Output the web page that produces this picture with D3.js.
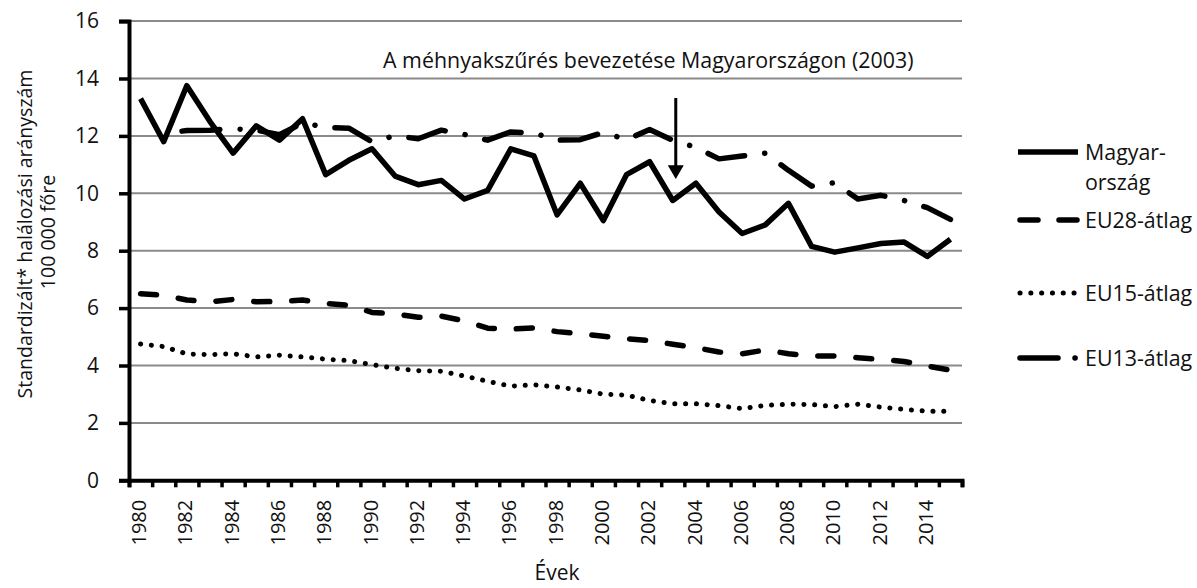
<!DOCTYPE html>
<html>
<head>
<meta charset="utf-8">
<script src="https://cdn.jsdelivr.net/npm/d3@7"></script>
<style>
  body { margin: 0; background: #fff; }
  svg { font-family: 'Open Sans', sans-serif; }
</style>
</head>
<body>
<div id="chart"></div>
<script>
// years and series (rate per 100 000)
const years = d3.range(1980, 2016);
const hungary = [13.3, 11.8, 13.75, 12.5, 11.4, 12.35, 11.85, 12.6, 10.65, 11.15, 11.55, 10.6, 10.3, 10.45, 9.8, 10.1, 11.55, 11.3, 9.25, 10.35, 9.05, 10.65, 11.1, 9.75, 10.35, 9.35, 8.6, 8.9, 9.65, 8.15, 7.95, 8.1, 8.25, 8.3, 7.8, 8.4];
const eu28 = [6.5, 6.45, 6.28, 6.22, 6.3, 6.22, 6.23, 6.28, 6.16, 6.1, 5.85, 5.8, 5.68, 5.72, 5.55, 5.3, 5.27, 5.31, 5.18, 5.11, 5.02, 4.93, 4.87, 4.74, 4.62, 4.47, 4.41, 4.54, 4.41, 4.33, 4.33, 4.27, 4.21, 4.14, 3.98, 3.84];
const eu15 = [4.75, 4.66, 4.4, 4.38, 4.41, 4.3, 4.36, 4.3, 4.22, 4.17, 4.03, 3.9, 3.82, 3.8, 3.63, 3.45, 3.28, 3.33, 3.25, 3.15, 3.0, 2.97, 2.78, 2.67, 2.67, 2.6, 2.5, 2.61, 2.65, 2.64, 2.57, 2.65, 2.55, 2.47, 2.41, 2.41];
const eu13 = [null, 12.08, 12.19, 12.2, 12.25, 12.2, 12.04, 12.45, 12.3, 12.27, 11.8, 12.0, 11.9, 12.2, 12.05, 11.85, 12.14, 12.1, 11.85, 11.87, 12.12, 11.87, 12.22, 11.85, 11.6, 11.2, 11.3, 11.4, 10.8, 10.25, 10.37, 9.8, 9.93, 9.75, 9.5, 9.09];
const yTicks = [0, 2, 4, 6, 8, 10, 12, 14, 16];
const xLabels = d3.range(1980, 2016, 2);

const width = 1197, height = 588;
const plotLeft = 129, plotRight = 962, plotTop = 21.1, plotBottom = 480.3;

const svg = d3.select('#chart').append('svg')
  .attr('width', width).attr('height', height);

const x = d3.scaleBand().domain(years).range([plotLeft, plotRight]);
const xIdx = d3.scaleLinear().domain([0, years.length]).range([plotLeft, plotRight]);
const y = d3.scaleLinear().domain([0, 16]).range([plotBottom, plotTop]);
const cx = d => x(d) + x.bandwidth() / 2;

// gridlines
svg.append('g')
  .selectAll('line')
  .data(yTicks.filter(t => t > 0))
  .enter().append('line')
  .attr('x1', plotLeft).attr('x2', plotRight)
  .attr('y1', d => y(d)).attr('y2', d => y(d))
  .attr('stroke', '#8a8a8a').attr('stroke-width', 2);

// y axis
const yAxis = svg.append('g')
  .attr('transform', `translate(${plotLeft},0)`)
  .call(d3.axisLeft(y).tickValues(yTicks).tickSize(10).tickPadding(20));
yAxis.select('.domain').attr('stroke-width', 4);
yAxis.selectAll('.tick line').attr('stroke-width', 3.5);
yAxis.selectAll('text').attr('font-size', 21).attr('font-family', 'Open Sans').attr('fill', '#111');

// x axis ticks at category edges
const xTickAxis = svg.append('g')
  .attr('transform', `translate(0,${plotBottom})`)
  .call(d3.axisBottom(xIdx).tickValues(d3.range(years.length + 1)).tickSize(7).tickFormat(''));
xTickAxis.select('.domain').attr('stroke-width', 4);
xTickAxis.selectAll('.tick line').attr('stroke-width', 3.5);

// x labels
const xLab = svg.append('g')
  .attr('transform', `translate(0,${plotBottom})`)
  .call(d3.axisBottom(x).tickValues(xLabels).tickSize(0));
xLab.select('.domain').remove();
xLab.selectAll('text')
  .attr('font-size', 20).attr('font-family', 'Open Sans').attr('fill', '#111')
  .attr('text-anchor', 'end')
  .attr('transform', 'rotate(-90)')
  .attr('x', -19.5).attr('y', 0).attr('dy', '0.28em');

// axis titles
svg.append('text')
  .attr('transform', 'translate(24,234) rotate(-90)')
  .attr('text-anchor', 'middle').attr('dominant-baseline', 'central')
  .attr('font-size', 19.5).attr('fill', '#111')
  .text('Standardizált* halálozási arányszám');
svg.append('text')
  .attr('transform', 'translate(47,232) rotate(-90)')
  .attr('text-anchor', 'middle').attr('dominant-baseline', 'central')
  .attr('font-size', 19.5).attr('fill', '#111')
  .text('100 000 főre');
svg.append('text')
  .attr('x', 557).attr('y', 580)
  .attr('text-anchor', 'middle')
  .attr('font-size', 21).attr('fill', '#111')
  .text('Évek');

// lines
const line = d3.line()
  .defined(d => d.v !== null)
  .x(d => cx(d.year))
  .y(d => y(d.v));
const toPts = arr => years.map((yr, i) => ({ year: yr, v: arr[i] }));

const series = [
  { name: 'eu15', data: eu15, dash: '0.1,10.7', width: 5, cap: 'round' },
  { name: 'eu28', data: eu28, dash: '16,22', width: 5.5, cap: 'round' },
  { name: 'eu13', data: eu13, dash: '38,20.2,0.1,20.1', width: 5.5, cap: 'round', offset: 60 },
  { name: 'hungary', data: hungary, dash: null, width: 5.5, cap: 'butt' }
];

series.forEach(s => {
  svg.append('path')
    .datum(toPts(s.data))
    .attr('fill', 'none')
    .attr('stroke', '#000')
    .attr('stroke-width', s.width)
    .attr('stroke-linecap', s.cap)
    .attr('stroke-linejoin', 'round')
    .attr('stroke-dasharray', s.dash)
    .attr('stroke-dashoffset', s.offset || 0)
    .attr('d', line);
});

// annotation
svg.append('text')
  .attr('x', 383).attr('y', 68)
  .attr('font-size', 21.4).attr('fill', '#111')
  .text('A méhnyakszűrés bevezetése Magyarországon (2003)');

const ax = cx(2003) + 3;
svg.append('line')
  .attr('x1', ax).attr('x2', ax)
  .attr('y1', y(13.32)).attr('y2', y(10.9))
  .attr('stroke', '#000').attr('stroke-width', 3);
svg.append('path')
  .attr('d', `M${ax - 8},${y(10.98)} L${ax + 8},${y(10.98)} L${ax},${y(10.5)} Z`)
  .attr('fill', '#000');

// legend
const legend = [
  { label: ['Magyar-', 'ország'], dash: null, width: 5.5, cap: 'butt', ly: 152 },
  { label: ['EU28-átlag'], dash: '18,21', width: 5.5, cap: 'round', ly: 220 },
  { label: ['EU15-átlag'], dash: '0.1,10.7', width: 5, cap: 'round', ly: 293 },
  { label: ['EU13-átlag'], dash: '38,17,0.1,20', width: 5.5, cap: 'round', ly: 358 }
];
const lg = svg.append('g');
legend.forEach(l => {
  lg.append('line')
    .attr('x1', l.cap === 'round' ? 1020 : 1018).attr('x2', 1078)
    .attr('y1', l.ly).attr('y2', l.ly)
    .attr('stroke', '#000').attr('stroke-width', l.width)
    .attr('stroke-linecap', l.cap)
    .attr('stroke-dasharray', l.dash);
  l.label.forEach((t, i) => {
    lg.append('text')
      .attr('x', 1085).attr('y', l.ly + 8 + i * 30)
      .attr('font-size', 21.4).attr('fill', '#111')
      .text(t);
  });
});
</script>
</body>
</html>
